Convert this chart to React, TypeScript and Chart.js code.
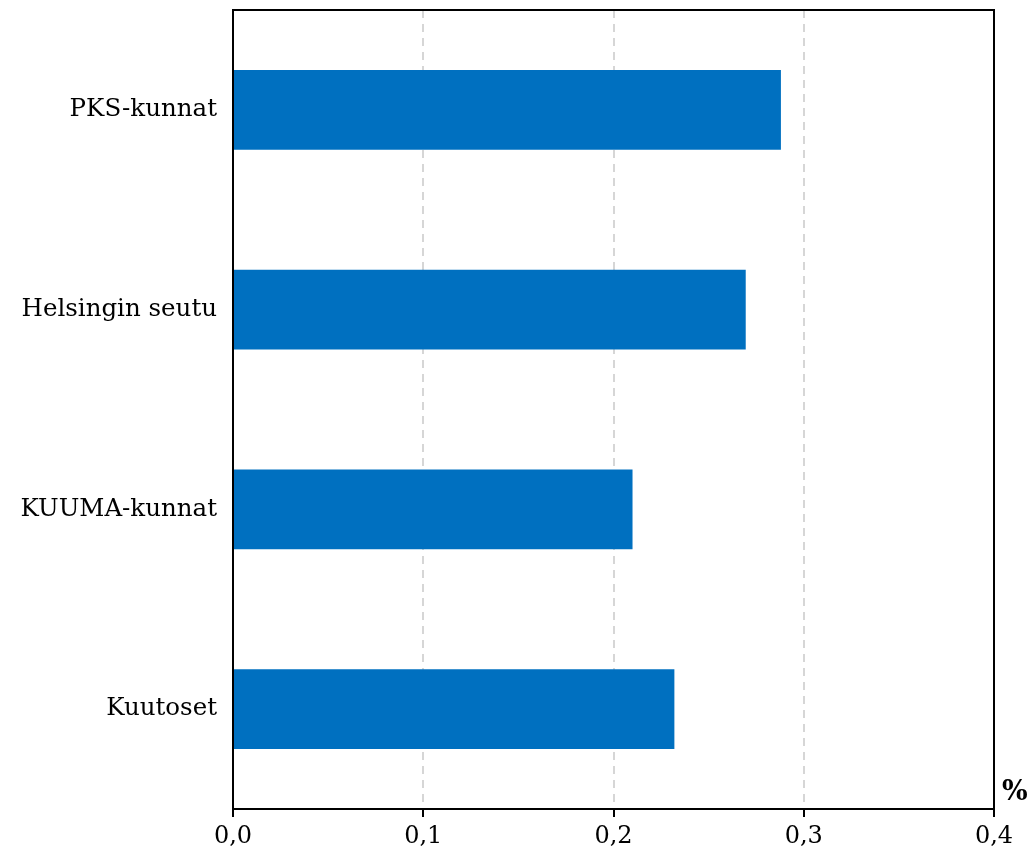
import React, { useEffect, useRef } from "react";
import { Chart, registerables } from "chart.js";

Chart.register(...registerables);

const categories = ["PKS-kunnat", "Helsingin seutu", "KUUMA-kunnat", "Kuutoset"];
const values = [0.288, 0.2695, 0.21, 0.232];
const xTicks = [0, 0.1, 0.2, 0.3, 0.4];
const unitLabel = "%";

const FONT = "'DejaVu Serif', serif";

export default function App() {
  const ref = useRef<HTMLCanvasElement | null>(null);

  useEffect(() => {
    if (!ref.current) return;
    const framePlugin = {
      id: "frame",
      afterDraw(chart: any) {
        const { ctx, chartArea } = chart;
        ctx.save();
        ctx.strokeStyle = "#000";
        ctx.lineWidth = 2;
        ctx.setLineDash([]);
        ctx.beginPath();
        ctx.moveTo(chartArea.left, chartArea.top);
        ctx.lineTo(chartArea.right, chartArea.top);
        ctx.lineTo(chartArea.right, chartArea.bottom);
        ctx.stroke();
        ctx.beginPath();
        ctx.moveTo(chartArea.left - 1, chartArea.bottom);
        ctx.lineTo(chartArea.right + 1, chartArea.bottom);
        ctx.stroke();
        ctx.fillStyle = "#000";
        ctx.font = "bold 27px " + FONT;
        ctx.textAlign = "left";
        ctx.textBaseline = "alphabetic";
        ctx.fillText(unitLabel, chartArea.right + 8, chartArea.bottom - 9);
        ctx.restore();
      },
    };
    const chart = new Chart(ref.current, {
      type: "bar",
      data: {
        labels: categories,
        datasets: [
          {
            data: values,
            backgroundColor: "#0070C0",
            barPercentage: 0.4,
            categoryPercentage: 1,
          },
        ],
      },
      options: {
        indexAxis: "y",
        animation: false,
        responsive: false,
        maintainAspectRatio: false,
        layout: { padding: { top: 10, right: 38, left: 0, bottom: 0 } },
        plugins: { legend: { display: false }, tooltip: { enabled: false } },
        scales: {
          x: {
            min: 0,
            max: 0.4,
            afterBuildTicks(scale: any) {
              scale.ticks = xTicks.map((v) => ({ value: v }));
            },
            afterFit(scale: any) {
              scale.height = 55;
            },
            border: { display: true, color: "#000", width: 2, dash: [8, 6] },
            grid: {
              display: true,
              color: "#d6d6d6",
              lineWidth: 2,
              drawTicks: true,
              tickLength: 8,
              tickColor: "#000",
              tickWidth: 2,
              tickBorderDash: [],
            },
            ticks: {
              color: "#000",
              font: { family: FONT, size: 24 },
              padding: 5,
              maxRotation: 0,
              callback: (v: any) => Number(v).toFixed(1).replace(".", ","),
            },
          },
          y: {
            afterFit(scale: any) {
              scale.width = 233;
              scale.paddingTop = 0;
              scale.paddingBottom = 0;
            },
            border: { display: true, color: "#000", width: 2 },
            grid: { display: false, drawTicks: false },
            ticks: {
              color: "#000",
              font: { family: FONT, size: 24.5 },
              padding: 16,
            },
          },
        },
      },
      plugins: [framePlugin],
    });
    return () => chart.destroy();
  }, []);

  return (
    <div style={{ position: "absolute", left: 0, top: 0, width: 1032, height: 864 }}>
      <canvas ref={ref} width={1032} height={864} style={{ width: 1032, height: 864, display: "block" }} />
    </div>
  );
}
